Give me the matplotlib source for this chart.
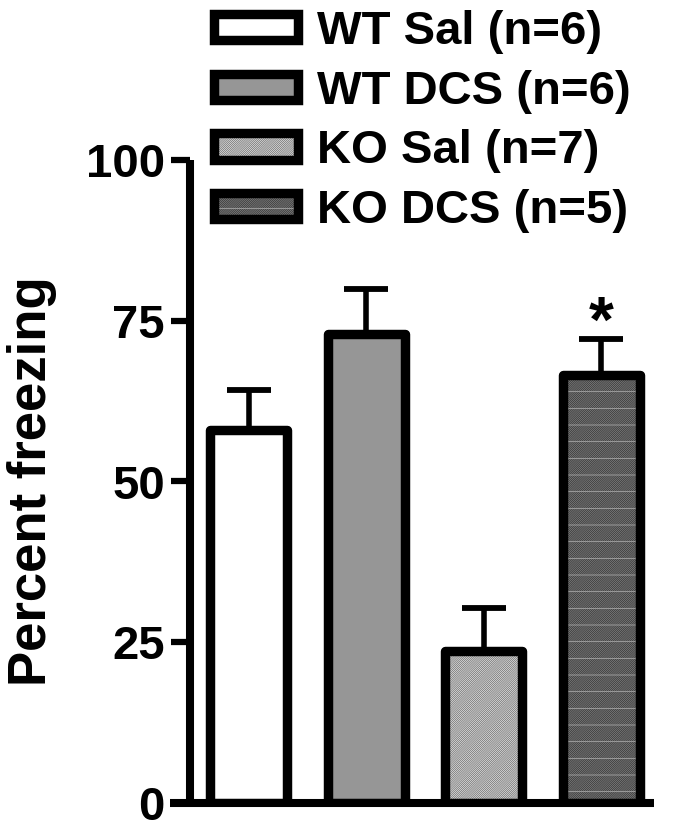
import matplotlib
matplotlib.use("Agg")
import matplotlib.pyplot as plt
from matplotlib.legend_handler import HandlerTuple

plt.rcParams['font.family'] = ['Liberation Sans', 'DejaVu Sans']
plt.rcParams['font.weight'] = 'bold'
plt.rcParams['hatch.linewidth'] = 0.5

groups = ["WT Sal (n=6)", "WT DCS (n=6)", "KO Sal (n=7)", "KO DCS (n=5)"]
means = [58.0, 73.0, 23.6, 66.5]
sems = [6.2, 7.0, 6.8, 5.6]
face_colors = ["#ffffff", "#969696", "#e4e4e4", "#808080"]
hatch_colors = ["#ffffff", "#969696", "#6a6a6a", "#333333"]
hatches = [None, None, "/" * 16, "/" * 16]
extra_hatches = [None, None, None, "-"]
extra_hatch_color = "#b4b4b4"
yticks = [0, 25, 50, 75, 100]
ylabel = "Percent freezing"
star_group = 3

fig = plt.figure(figsize=(6.75, 8.3), dpi=100)
ax = fig.add_axes([190/675, 1-803/830, (660-190)/675, (803-160)/830])

x = list(range(len(groups)))
width = 0.655
lw = 6.8

# error bars (upper only)
ax.errorbar(x, means, yerr=[[0]*len(means), sems], fmt='none', ecolor='black',
            elinewidth=4.0, capsize=16, capthick=4.2, zorder=1)

handles = []
for i in range(len(groups)):
    parts = []
    fill = ax.bar(x[i], means[i], width=width, color=face_colors[i],
                  edgecolor=hatch_colors[i], hatch=hatches[i], linewidth=0, zorder=2)
    parts.append(fill[0])
    if extra_hatches[i]:
        extra = ax.bar(x[i], means[i], width=width, facecolor='none',
                       edgecolor=extra_hatch_color, hatch=extra_hatches[i],
                       linewidth=0, zorder=2.5)
        parts.append(extra[0])
    outline = ax.bar(x[i], means[i], width=width, facecolor='none',
                     edgecolor='black', linewidth=lw, joinstyle='round', zorder=3)
    parts.append(outline[0])
    handles.append(tuple(parts))

ax.text(x[star_group], means[star_group] + sems[star_group] - 2.4, "*",
        ha='center', va='bottom', fontsize=46, fontweight='bold')

ax.set_xlim(-0.5, 3.5)
ax.set_ylim(0, 100)
ax.set_yticks(yticks)
ax.set_yticklabels([str(t) for t in yticks])
ax.set_xticks([])
for s in ['top', 'right']:
    ax.spines[s].set_visible(False)
for s in ['left', 'bottom']:
    ax.spines[s].set_linewidth(5.8)
    ax.spines[s].set_capstyle('butt')
ax.spines['bottom'].set_bounds(-0.67, 3.45)
ax.spines['left'].set_bounds(0, 100)
ax.tick_params(axis='y', length=14, width=4.5, pad=4, labelsize=34)
for lab in ax.get_yticklabels():
    lab.set_fontweight('bold')
ax.set_ylabel(ylabel, fontsize=38, fontweight='bold', labelpad=21)
ax.patch.set_alpha(0)

leg = fig.legend(handles, groups, loc='upper left',
                 bbox_to_anchor=(214/675, 1-10/830), bbox_transform=fig.transFigure,
                 frameon=False, fontsize=34, handlelength=1.77, handleheight=0.48,
                 handletextpad=0.42, labelspacing=0.33, borderpad=0, borderaxespad=0,
                 handler_map={tuple: HandlerTuple(ndivide=1)})
for t in leg.get_texts():
    t.set_fontweight('bold')

fig.savefig("out.png", dpi=100)
